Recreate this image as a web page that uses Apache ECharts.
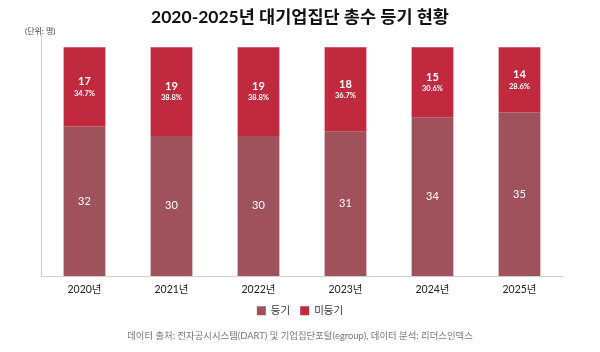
<!DOCTYPE html>
<html><head><meta charset="utf-8">
<script src="https://cdn.jsdelivr.net/npm/echarts@6/dist/echarts.min.js"></script>
<style>html,body{margin:0;padding:0;background:#fff}#c{width:600px;height:352px}</style>
</head><body><div id="c"></div>
<script>
var categories = ['2020년','2021년','2022년','2023년','2024년','2025년'];
var registered = [32, 30, 30, 31, 34, 35];
var unregistered = [17, 19, 19, 18, 15, 14];
var unregisteredPct = ['34.7%','38.8%','38.8%','36.7%','30.6%','28.6%'];

var FONT = "Lato, 'Noto Sans CJK KR', sans-serif";
var chart = echarts.init(document.getElementById('c'));
chart.setOption({
  animation: false,
  textStyle: {fontFamily: FONT},
  title: [{
    text: '2020-2025년 대기업집단 총수 등기 현황',
    left: 'center', top: 4,
    textStyle: {fontFamily: FONT, fontSize: 17.5, fontWeight: 'bold', color: '#111'}
  }, {
    text: '(단위: 명)', left: 20, top: 22,
    textStyle: {fontFamily: FONT, fontSize: 8, fontWeight: 'normal', color: '#444'}
  }, {
    text: '데이터 출처: 전자공시시스템(DART) 및 기업집단포털(egroup), 데이터 분석: 리더스인덱스',
    left: 'center', top: 326,
    textStyle: {fontFamily: FONT, fontSize: 9.4, fontWeight: 'normal', color: '#777'}
  }],
  legend: {
    bottom: 31, left: 'center',
    itemWidth: 9, itemHeight: 9, itemGap: 10,
    icon: 'rect',
    textStyle: {fontFamily: FONT, fontSize: 10.5, color: '#333'},
    data: ['등기','미등기']
  },
  grid: {left: 41, right: 37, top: 35, bottom: 76},
  xAxis: {
    type: 'category', data: categories,
    axisLine: {lineStyle: {color: '#d0d0d0', width: 1}},
    axisTick: {show: false},
    axisLabel: {color: '#222', fontSize: 10.5, margin: 8, fontFamily: FONT}
  },
  yAxis: {
    type: 'value', min: 0, max: 51.6,
    axisLine: {show: true, lineStyle: {color: '#d0d0d0', width: 1}},
    axisTick: {show: false},
    axisLabel: {show: false},
    splitLine: {show: false}
  },
  series: [{
    name: '등기', type: 'bar', stack: 't', data: registered,
    barWidth: '48%',
    itemStyle: {color: '#A0525C'},
    label: {show: true, position: 'inside', color: '#fff', fontSize: 11, fontFamily: FONT}
  }, {
    name: '미등기', type: 'bar', stack: 't', data: unregistered,
    barWidth: '48%',
    itemStyle: {color: '#C12A3E'},
    label: {
      show: true, position: 'inside', color: '#fff',
      formatter: function (p) { return '{a|' + p.value + '}\n{b|' + unregisteredPct[p.dataIndex] + '}'; },
      rich: {
        a: {fontSize: 11, fontWeight: 'bold', color: '#fff', fontFamily: FONT, lineHeight: 13},
        b: {fontSize: 7.5, fontWeight: 'bold', color: '#fff', fontFamily: FONT, lineHeight: 10}
      }
    }
  }]
});
</script></body></html>
